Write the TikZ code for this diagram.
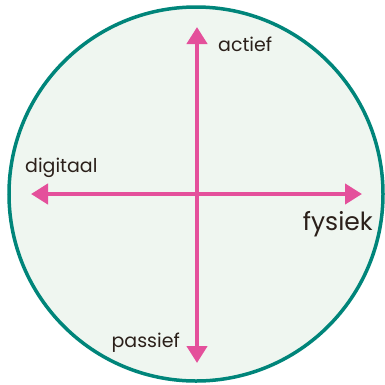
\documentclass[tikz,border=0pt]{standalone}
\usepackage{fontspec}
\setmainfont{Poppins}
\usetikzlibrary{arrows.meta}
\definecolor{ringT}{RGB}{0,133,122}
\definecolor{fillG}{RGB}{239,246,240}
\definecolor{axisP}{RGB}{228,80,155}
\definecolor{textD}{RGB}{43,32,26}
\tikzset{axis/.style={axisP, line width=4.5pt, {Triangle[length=17pt, width=20pt]}-{Triangle[length=17pt, width=20pt]}},
  lbl/.style={textD, font=\fontsize{19}{22}\selectfont, inner sep=0pt}}

\begin{document}
\begin{tikzpicture}[x=1pt, y=-1pt]
\useasboundingbox (0,0) rectangle (385,384);
% circle background
\draw[ringT, line width=3.5pt, fill=fillG] (196,194) circle (187);
% axis end points
\coordinate (top) at (197,27);
\coordinate (bottom) at (197,363);
\coordinate (left) at (31,194);
\coordinate (right) at (362,194);
\draw[axis] (bottom) -- (top);
\draw[axis] (left) -- (right);
% labels
\node[lbl, anchor=west] (actief) at (218,44) {actief};
\node[lbl, anchor=west] (digitaal) at (25,168) {digitaal};
\node[lbl, anchor=east, font=\fontsize{25}{28}\selectfont] (fysiek) at (373,224) {fysiek};
\node[lbl, anchor=east] (passief) at (180,343) {passief};
\end{tikzpicture}
\end{document}
